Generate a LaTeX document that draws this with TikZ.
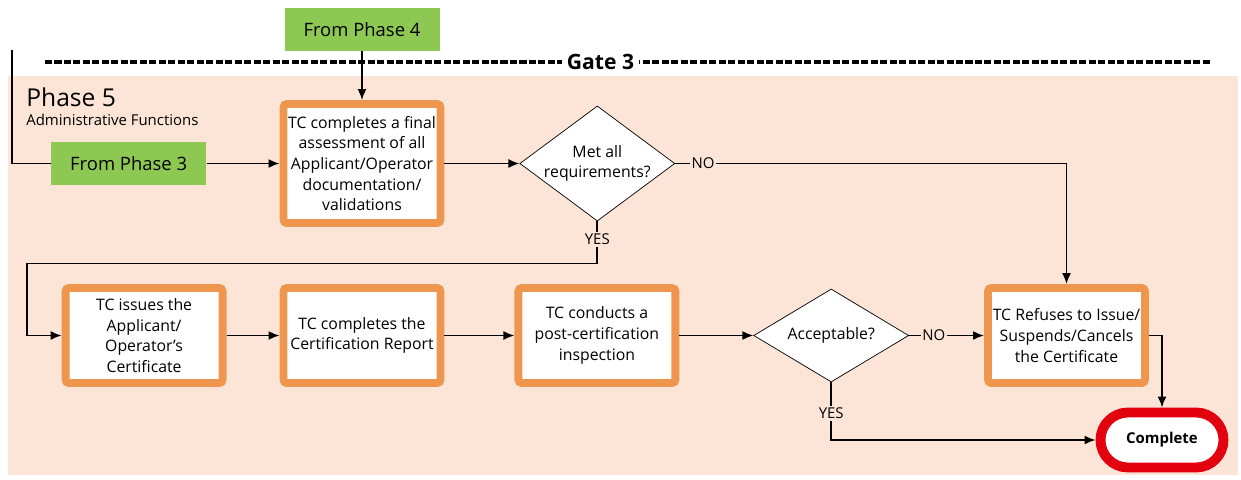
\documentclass[tikz,border=0pt]{standalone}
\usepackage{fontspec}
\setmainfont{Open Sans}
\usepackage{xcolor}
\usetikzlibrary{shapes.geometric, arrows.meta, positioning, calc}

\definecolor{phasebg}{HTML}{FCE4D6}
\definecolor{boxorange}{RGB}{238,150,78}
\definecolor{phasegreen}{HTML}{8DC952}
\definecolor{stopred}{HTML}{E3000F}

\begin{document}
\begin{tikzpicture}[
    node distance=1cm,
    frombox/.style={rectangle, fill=phasegreen, minimum width=3.1cm, minimum height=0.86cm, align=center, font=\fontsize{10.5}{12}\selectfont},
    process/.style={rectangle, rounded corners=2pt, draw=boxorange, line width=4.5pt, fill=white, minimum width=3.14cm, minimum height=1.9cm, inner sep=1pt, align=center, font=\fontsize{9}{11.8}\selectfont},
    decision/.style={diamond, draw, fill=white, minimum width=3.1cm, minimum height=1.86cm, inner sep=-4pt, align=center, font=\fontsize{9}{11.8}\selectfont},
    finish/.style={rectangle, rounded corners=0.55cm, draw=stopred, line width=5.6pt, fill=white, minimum width=2.46cm, minimum height=1.1cm, font=\bfseries\fontsize{8.5}{10}\selectfont},
    arrow/.style={-{Latex[length=2.2mm, width=1.8mm]}, line width=1pt},
    line/.style={line width=1pt},
    gate/.style={line width=1.8pt, dash pattern=on 4pt off 1.4pt},
    lbl/.style={fill=phasebg, inner sep=1pt, font=\fontsize{8.5}{10}\selectfont}
]
    \useasboundingbox (0,0) rectangle (24.82,-9.58);
    \fill[phasebg] (0.16,-1.52) rectangle (24.76,-9.5);

    % Phase title
    \node[anchor=west, inner sep=0pt, font=\fontsize{14}{16}\selectfont] (phase) at (0.52,-1.94) {Phase 5};
    \node[anchor=west, inner sep=0pt, font=\fontsize{8.5}{10}\selectfont] (admin) at (0.52,-2.4) {Administrative Functions};

    % Gate line
    \coordinate (gatel) at (0.9,-1.24);
    \coordinate (gater) at (24.24,-1.24);
    \draw[gate] (gatel) -- node[pos=0.476, fill=white, inner sep=3pt, font=\bfseries\fontsize{12}{14}\selectfont] (gatelbl) {Gate 3} (gater);

    % Top row
    \node[process, minimum height=2.38cm] (assess) at (7.24,-3.27) {TC completes a final\\assessment of all\\Applicant/Operator\\documentation/\\validations};
    \node[frombox, above=0.98cm of assess] (ph4) {From Phase 4};
    \node[frombox, left=1.46cm of assess] (ph3) {From Phase 3};
    \node[decision, right=1.5cm of assess] (met) {Met all\\requirements?};

    % Bottom row
    \node[process] (report) at (7.24,-6.71) {TC completes the\\Certification Report};
    \node[process, left=1.06cm of report] (issue) {TC issues the\\Applicant/\\Operator's\\Certificate};
    \node[process, right=1.4cm of report] (post) {TC conducts a\\post-certification\\inspection};
    \node[decision, right=1.48cm of post] (accept) {Acceptable?};
    \node[process, right=1.5cm of accept] (refuse) {TC Refuses to Issue/\\Suspends/Cancels\\the Certificate};
    \node[finish] (complete) at (23.24,-8.8) {Complete};

    % Entry arrows
    \coordinate (ph3in) at (0.24,-1.0);
    \draw[line] (ph3in) |- (ph3.west);
    \draw[arrow] (ph3) -- (assess);
    \draw[arrow] (ph4) -- (assess);
    \draw[arrow] (assess) -- (met);

    % Decision arrows
    \draw[arrow] (met.east) -- ++(0.56,0) node[lbl] {NO} -| (refuse.north);
    \draw[arrow] (met.south) -- ++(0,-0.36) node[lbl] {YES} -- ++(0,-0.48) -| ([xshift=-0.7cm]issue.west) -- (issue.west);

    % Bottom flow
    \draw[arrow] (issue) -- (report);
    \draw[arrow] (report) -- (post);
    \draw[arrow] (post) -- (accept);
    \draw[arrow] (accept) -- node[lbl, pos=0.33] {NO} (refuse);
    \draw[arrow] (accept.south) -- ++(0,-0.62) node[lbl] {YES} |- (complete.west);
    \draw[arrow] (refuse.east) -| (complete.north);
\end{tikzpicture}
\end{document}
